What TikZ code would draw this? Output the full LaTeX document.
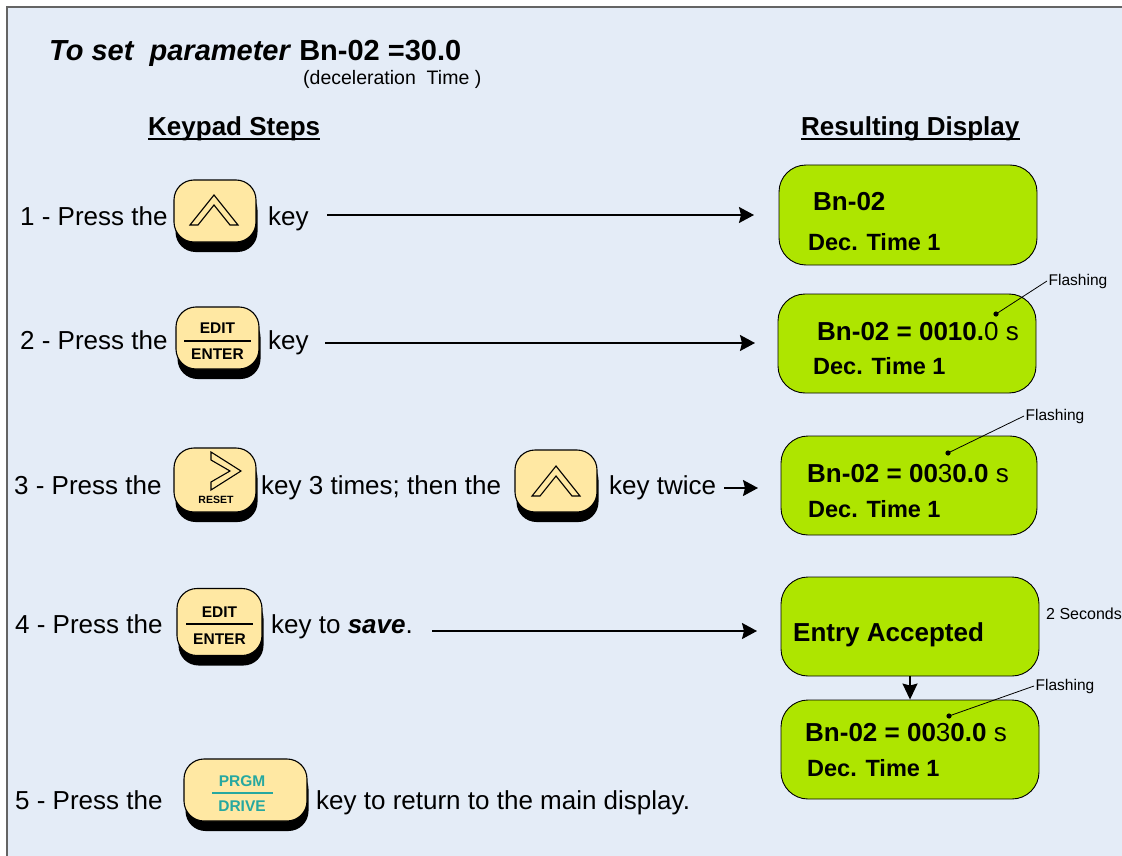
\documentclass[tikz,border=0pt]{standalone}
\usepackage{fontspec}
\setmainfont{Liberation Sans}
\usetikzlibrary{arrows.meta,shadows}
\definecolor{bgblue}{RGB}{228,236,247}
\definecolor{lcdgreen}{RGB}{174,229,0}
\definecolor{keyyellow}{RGB}{255,232,163}
\definecolor{tealtxt}{RGB}{38,168,160}
\definecolor{framegray}{RGB}{100,100,100}
\newcommand{\fsz}[1]{\fontsize{#1}{#1}\selectfont}
\begin{document}
\begin{tikzpicture}[x=1pt,y=-1pt,
  keybox/.style={draw=black, line width=1.1pt, fill=keyyellow, rounded corners=20pt, inner sep=0pt,
     drop shadow={shadow xshift=1.5pt, shadow yshift=-10pt, fill=black, opacity=1}},
  lcd/.style={draw=black, line width=0.9pt, fill=lcdgreen, rounded corners=27pt, inner sep=0pt},
  chev/.style={draw=black, line width=1.1pt, fill=keyyellow, line join=miter},
  txt/.style={anchor=base west, inner sep=0pt, font=\fsz{26}},
  lcdbig/.style={anchor=base west, inner sep=0pt, font=\fsz{26}\bfseries},
  lcdsmall/.style={anchor=base west, inner sep=0pt, font=\fsz{23.5}\bfseries},
  keylbl/.style={inner sep=0pt, font=\fsz{15.5}\bfseries},
  flash/.style={anchor=west, inner sep=1.5pt, font=\fsz{15.5}},
  arr/.style={line width=1.7pt, -{Stealth[length=15pt,width=16pt,inset=2pt]}},
  leader/.style={line width=0.8pt},
  uline/.style={line width=1.8pt},
  upchev/.pic={\draw[chev] (-24,30) -- (0,0) -- (24,30) -- (16,30) -- (0,10) -- (-16,30) -- cycle;}
]
\useasboundingbox (0,0) rectangle (1122,856);
\begin{scope}
  \clip (0,0) rectangle (1122,856);
  \fill[white] (0,0) rectangle (1122,856);
  \draw[framegray, line width=1.5pt, fill=bgblue] (7,7) rectangle (1140,880);
\end{scope}

% title
\node[anchor=base west, inner sep=0pt, font=\fsz{29}\bfseries] (title) at (49,61)
  {\textit{To set\ \ parameter} Bn-02 =30.0};
\node[anchor=base west, inner sep=0pt, font=\fsz{19.5}] (sub) at (303,85) {(deceleration\ \ Time )};

% headings
\node[anchor=base west, inner sep=0pt, font=\fsz{26}\bfseries] (ks) at (148,136) {Keypad Steps};
\draw[uline] ([yshift=-3pt]ks.base west) -- ([yshift=-3pt]ks.base east);
\node[anchor=base west, inner sep=0pt, font=\fsz{26}\bfseries] (rd) at (801,136) {Resulting Display};
\draw[uline] ([yshift=-3pt]rd.base west) -- ([yshift=-3pt]rd.base east);

% keys
\node[keybox, minimum width=82pt, minimum height=62pt] (k1) at (215,211) {};
\pic at (214,195) {upchev};
\node[keybox, minimum width=83pt, minimum height=62pt] (k2) at (217.5,338) {};
\node[keylbl] (k2a) at (217.5,328) {EDIT};
\draw[line width=1.8pt] (184,341) -- (251,341);
\node[keylbl] (k2b) at (217.5,354) {ENTER};

\node[keybox, minimum width=82pt, minimum height=64pt] (k3) at (215,480) {};
\draw[chev] (211,452) -- (241,471) -- (211,490) -- (211,482) -- (230,471) -- (211,460) -- cycle;
\node[inner sep=0pt, font=\fsz{10.5}\bfseries] (k3a) at (216,500) {RESET};

\node[keybox, minimum width=82pt, minimum height=62pt] (k4) at (556,481) {};
\pic at (556,466) {upchev};

\node[keybox, minimum width=85pt, minimum height=67pt] (k5) at (219.5,622) {};
\node[keylbl] (k5a) at (219.5,612) {EDIT};
\draw[line width=1.8pt] (186,624) -- (253,624);
\node[keylbl] (k5b) at (219.5,639) {ENTER};

\node[keybox, minimum width=123pt, minimum height=62pt] (k6) at (245.5,790) {};
\node[keylbl, text=tealtxt] (k6a) at (242,781) {PRGM};
\draw[tealtxt, line width=2.4pt] (212,793) -- (273,793);
\node[keylbl, text=tealtxt] (k6b) at (242,806) {DRIVE};

% step texts
\node[txt] (s1) at (20,225) {1 - Press the};
\node[txt] (s1b) at (268,225) {key};
\node[txt] (s2) at (20,349) {2 - Press the};
\node[txt] (s2b) at (268,349) {key};
\node[txt] (s3) at (14,494) {3 - Press the};
\node[txt] (s3b) at (261,494) {key 3 times; then the};
\node[txt] (s3c) at (609,494) {key twice};
\node[txt] (s4) at (15,633) {4 - Press the};
\node[txt] (s4b) at (271,633) {key to \textbf{\textit{save}}.};
\node[txt] (s5) at (15,809) {5 - Press the};
\node[txt] (s5b) at (316,809) {key to return to the main display.};

% displays
\node[lcd, minimum width=258pt, minimum height=100pt] (d1) at (908,215) {};
\node[lcdbig] (d1a) at (813,211) {Bn-02};
\node[lcdsmall] (d1b) at (808,250) {Dec. Time 1};

\node[lcd, minimum width=258pt, minimum height=99pt] (d2) at (907,343.5) {};
\node[lcdbig] (d2a) at (817,340) {Bn-02 = 0010.\mdseries0 s};
\node[lcdsmall] (d2b) at (813,374) {Dec. Time 1};

\node[lcd, minimum width=256pt, minimum height=99pt] (d3) at (909,485.5) {};
\node[lcdbig] (d3a) at (807,482) {Bn-02 = 00{\mdseries3}0.0\mdseries\ s};
\node[lcdsmall] (d3b) at (808,517) {Dec. Time 1};

\node[lcd, minimum width=258pt, minimum height=99pt] (d4) at (910,626.5) {};
\node[lcdbig] (d4a) at (793,641) {Entry Accepted};

\node[lcd, minimum width=258pt, minimum height=99pt] (d5) at (910,749.5) {};
\node[lcdbig] (d5a) at (805,741) {Bn-02 = 00{\mdseries3}0.0\mdseries\ s};
\node[lcdsmall] (d5b) at (807,776) {Dec. Time 1};

% arrows
\coordinate (a1s) at (327,215);
\coordinate (a1e) at (754,215);
\draw[arr] (a1s) -- (a1e);
\coordinate (a2s) at (325,343);
\coordinate (a2e) at (755,343);
\draw[arr] (a2s) -- (a2e);
\coordinate (a3s) at (724,488);
\coordinate (a3e) at (758,488);
\draw[arr] (a3s) -- (a3e);
\coordinate (a4s) at (432,631);
\coordinate (a4e) at (757,631);
\draw[arr] (a4s) -- (a4e);
\draw[line width=1.7pt, -{Stealth[length=16pt,width=15pt,inset=2pt]}] (d4.south) -- (d5.north);

% flashing annotations
\node[flash] (f2) at (1047,281) {Flashing};
\coordinate (p2) at (996,314);
\fill (p2) circle (2.6);
\draw[leader] (p2) -- (f2.west);
\node[flash] (f3) at (1024,416) {Flashing};
\coordinate (p3) at (948,453);
\fill (p3) circle (2.6);
\draw[leader] (p3) -- (f3.west);
\node[flash] (f5) at (1034,686) {Flashing};
\coordinate (p5) at (949,716);
\fill (p5) circle (2.6);
\draw[leader] (p5) -- (f5.west);
\node[anchor=west, inner sep=0pt, font=\fsz{16}] (sec) at (1046,614) {2 Seconds};
\end{tikzpicture}
\end{document}
